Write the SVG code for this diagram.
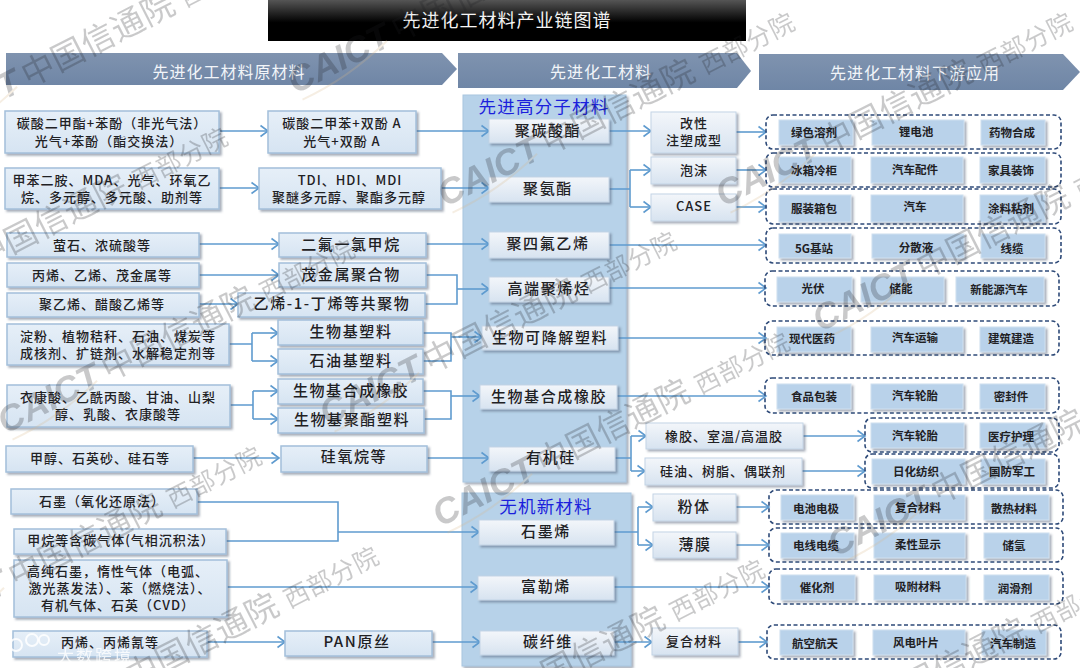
<svg xmlns="http://www.w3.org/2000/svg" xmlns:xlink="http://www.w3.org/1999/xlink" width="1080" height="668" viewBox="0 0 1080 668">
<style>
text{font-family:"Noto Sans CJK SC","Noto Sans",sans-serif;text-anchor:middle;fill:#1f2124}
.b1{fill:url(#gl);stroke:#a3bfda;stroke-width:1.5;filter:url(#sh)}
.b2{fill:url(#gc);stroke:#c3d4e6;stroke-width:1;filter:url(#sh)}
.b3{fill:#b9d2ea;stroke:#cfe0f0;stroke-width:1;filter:url(#sh)}
.t1{font-size:13px;letter-spacing:1px;font-weight:500}
.t2{font-size:15px;letter-spacing:1.6px;font-weight:500}
.t3{font-size:11.5px;font-weight:700}
.hd{fill:url(#gh)}
.ht{font-size:16px;letter-spacing:1px;fill:#f2f5f9}
.pn{fill:#b7d2e9;stroke:#a9c6e0;stroke-width:1;filter:url(#sh)}
.lb{font-size:17.5px;letter-spacing:1.2px;fill:#1b1fdc}
.dg{fill:none;stroke:#2e4a78;stroke-width:1.6;stroke-dasharray:4 2.5}
#connectors path{fill:none;stroke:#5f9bcf;stroke-width:1.6}
.a{marker-end:url(#ar)}
.wm text{fill:#7f95bd}
</style>
<defs>
<linearGradient id="gt" x1="0" y1="0" x2="0" y2="1"><stop offset="0" stop-color="#555"/><stop offset=".55" stop-color="#000"/><stop offset="1" stop-color="#000"/></linearGradient>
<linearGradient id="gh" x1="0" y1="0" x2="0" y2="1"><stop offset="0" stop-color="#7f93af"/><stop offset="1" stop-color="#6f86a6"/></linearGradient>
<linearGradient id="gl" x1="0" y1="0" x2="0" y2="1"><stop offset="0" stop-color="#e6eff8"/><stop offset="1" stop-color="#d6e4f2"/></linearGradient>
<linearGradient id="gc" x1="0" y1="0" x2="0" y2="1"><stop offset="0" stop-color="#f3f6fa"/><stop offset="1" stop-color="#d7e3f0"/></linearGradient>
<filter id="sh" x="-10%" y="-15%" width="125%" height="140%"><feDropShadow dx="2" dy="2" stdDeviation="1" flood-color="#4a5a70" flood-opacity=".5"/></filter>
<marker id="ar" markerUnits="userSpaceOnUse" markerWidth="11" markerHeight="14" refX="9" refY="7" orient="auto"><path d="M1.5,1.5 L9,7 L1.5,12.5" fill="none" stroke="#5f9bcf" stroke-width="1.6"/></marker>
<g id="wmu">
<text x="6" y="0" style="font-family:'Liberation Sans',sans-serif;font-size:36px;font-weight:700;font-style:italic;text-anchor:start">CAICT</text>
<text x="122" y="0" style="font-size:33px;text-anchor:start;letter-spacing:.5px">中国信通院</text>
<text x="298" y="0" style="font-size:25px;text-anchor:start;letter-spacing:.8px">西部分院</text>
<path d="M10,8 Q60,10 112,-6" fill="none" stroke="#d8b98c" stroke-width="2"/>
</g>
</defs>

<rect width="1080" height="668" fill="#fff"/>

<g id="title"><rect x="268" y="0" width="478" height="41" fill="url(#gt)"/><text x="507" y="27" style="font-size:18px;letter-spacing:1px;fill:#f4f4f4">先进化工材料产业链图谱</text></g>
<g id="header-raw"><path class="hd" d="M6,53H442L457,69L442,85H6Z"/><text class="ht" x="229" y="78">先进化工材料原材料</text></g>
<g id="header-mid"><path class="hd" d="M458,53H737L751,71L737,88H458Z"/><text class="ht" x="601" y="78">先进化工材料</text></g>
<g id="header-down"><path class="hd" d="M759,54H1063L1080,72L1063,90H759Z"/><text class="ht" x="915" y="79">先进化工材料下游应用</text></g>

<g id="panel-polymer"><rect class="pn" x="463" y="95" width="163" height="387"/><text class="lb" x="544" y="113">先进高分子材料</text></g>
<g id="panel-inorganic"><rect class="pn" x="462" y="493" width="169" height="173"/><text class="lb" x="546" y="513">无机新材料</text></g>

<g id="connectors">
<path class="a" d="M219,131H268"/><path class="a" d="M219,188H259"/><path class="a" d="M198,244H279"/><path class="a" d="M198,275H279"/><path class="a" d="M198,304H238"/>
<path d="M229,344H252M252,333V361"/><path class="a" d="M252,333H278"/><path class="a" d="M252,361H278"/>
<path d="M230,405H253M253,391V419"/><path class="a" d="M253,391H278"/><path class="a" d="M253,419H278"/>
<path class="a" d="M193,458H279"/>
<path d="M197,502H338V541H226"/><path class="a" d="M338,532H479"/>
<path class="a" d="M227,587H478"/><path class="a" d="M207,642H285"/>
<path class="a" d="M416,131H489"/><path class="a" d="M441,188H489"/><path class="a" d="M426,244H489"/>
<path d="M426,275H457V304H425"/><path class="a" d="M457,289H489"/>
<path d="M423,333H451V361H423"/><path class="a" d="M451,337H482"/>
<path d="M423,391H451V419H424"/><path class="a" d="M451,396H480"/>
<path class="a" d="M427,458H489"/><path class="a" d="M432,642H480"/>
<path class="a" d="M609,131H651"/><path d="M609,189H630M630,170V207"/><path class="a" d="M630,170H651"/><path class="a" d="M630,207H651"/>
<path class="a" d="M609,245H766"/><path class="a" d="M609,288H766"/><path class="a" d="M618,338H766"/><path class="a" d="M617,396H766"/>
<path d="M615,458H631M631,436V471"/><path class="a" d="M631,436H646"/><path class="a" d="M631,471H645"/>
<path d="M614,532H638M638,507V545"/><path class="a" d="M638,507H653"/><path class="a" d="M638,545H653"/>
<path class="a" d="M614,587H769"/><path class="a" d="M614,642H652"/>
<path class="a" d="M736,132H766"/><path class="a" d="M736,170H766"/><path class="a" d="M736,207H766"/>
<path class="a" d="M803,436H865"/><path class="a" d="M802,471H865"/>
<path class="a" d="M736,507H769"/><path class="a" d="M736,545H769"/><path class="a" d="M738,642H767"/>
</g>

<g id="raw-1"><rect class="b1" x="5" y="111" width="214" height="42"/><text class="t1" x="112" y="128">碳酸二甲酯+苯酚（非光气法）</text><text class="t1" x="109" y="146">光气+苯酚（酯交换法）</text></g>
<g id="raw-2"><rect class="b1" x="268" y="111" width="148" height="42"/><text class="t1" x="342" y="128">碳酸二甲苯+双酚 A</text><text class="t1" x="342" y="146">光气+双酚 A</text></g>
<g id="raw-3"><rect class="b1" x="5" y="168" width="214" height="41"/><text class="t1" x="112" y="185">甲苯二胺、MDA、光气、环氧乙</text><text class="t1" x="112" y="202">烷、多元醇、多元酸、助剂等</text></g>
<g id="raw-4"><rect class="b1" x="259" y="168" width="182" height="41"/><text class="t1" x="350" y="185">TDI、HDI、MDI</text><text class="t1" x="349" y="202">聚醚多元醇、聚酯多元醇</text></g>
<g id="raw-5"><rect class="b1" x="7" y="233" width="192" height="24"/><text class="t1" x="102" y="250">萤石、浓硫酸等</text></g>
<g id="raw-6"><rect class="b1" x="279" y="233" width="147" height="24"/><text class="t2" x="351" y="250">二氟一氯甲烷</text></g>
<g id="raw-7"><rect class="b1" x="7" y="263" width="192" height="24"/><text class="t1" x="102" y="280">丙烯、乙烯、茂金属等</text></g>
<g id="raw-8"><rect class="b1" x="279" y="263" width="147" height="24"/><text class="t2" x="351" y="280">茂金属聚合物</text></g>
<g id="raw-9"><rect class="b1" x="7" y="293" width="192" height="24"/><text class="t1" x="102" y="309">聚乙烯、醋酸乙烯等</text></g>
<g id="raw-10"><rect class="b1" x="238" y="293" width="187" height="24"/><text class="t2" x="332" y="309">乙烯-1-丁烯等共聚物</text></g>
<g id="raw-11"><rect class="b1" x="7" y="324" width="222" height="41"/><text class="t1" x="118" y="341">淀粉、植物秸秆、石油、煤炭等</text><text class="t1" x="118" y="358">成核剂、扩链剂、水解稳定剂等</text></g>
<g id="raw-12"><rect class="b1" x="278" y="320" width="145" height="25"/><text class="t2" x="351" y="337">生物基塑料</text></g>
<g id="raw-13"><rect class="b1" x="278" y="349" width="145" height="25"/><text class="t2" x="351" y="366">石油基塑料</text></g>
<g id="raw-14"><rect class="b1" x="7" y="385" width="223" height="42"/><text class="t1" x="118" y="402">衣康酸、乙酰丙酸、甘油、山梨</text><text class="t1" x="118" y="419">醇、乳酸、衣康酸等</text></g>
<g id="raw-15"><rect class="b1" x="278" y="379" width="145" height="25"/><text class="t2" x="351" y="396">生物基合成橡胶</text></g>
<g id="raw-16"><rect class="b1" x="278" y="408" width="146" height="25"/><text class="t2" x="352" y="425">生物基聚酯塑料</text></g>
<g id="raw-17"><rect class="b1" x="6" y="446" width="187" height="26"/><text class="t1" x="100" y="463">甲醇、石英砂、硅石等</text></g>
<g id="raw-18"><rect class="b1" x="281" y="446" width="146" height="26"/><text class="t2" x="354" y="462">硅氧烷等</text></g>
<g id="raw-19"><rect class="b1" x="11" y="489" width="186" height="25"/><text class="t1" x="102" y="506">石墨（氧化还原法）</text></g>
<g id="raw-20"><rect class="b1" x="14" y="529" width="212" height="25"/><text class="t1" x="121" y="545">甲烷等含碳气体(气相沉积法）</text></g>
<g id="raw-21"><rect class="b1" x="14" y="560" width="213" height="57"/><text class="t1" x="118" y="576">高纯石墨，惰性气体（电弧、</text><text class="t1" x="120" y="593">激光蒸发法）、苯（燃烧法）、</text><text class="t1" x="118" y="610">有机气体、石英（CVD）</text></g>
<g id="raw-22"><rect class="b1" x="13" y="631" width="194" height="26"/><text class="t1" x="110" y="647">丙烯、丙烯氰等</text></g>
<g id="raw-23"><rect class="b1" x="285" y="631" width="147" height="25"/><text class="t2" x="357" y="647">PAN原丝</text></g>

<g id="mat-1"><rect class="b2" x="489" y="119" width="120" height="24"/><text class="t2" x="548" y="136">聚碳酸酯</text></g>
<g id="mat-2"><rect class="b2" x="489" y="177" width="120" height="25"/><text class="t2" x="548" y="194">聚氨酯</text></g>
<g id="mat-3"><rect class="b2" x="489" y="232" width="120" height="26"/><text class="t2" x="548" y="249">聚四氟乙烯</text></g>
<g id="mat-4"><rect class="b2" x="489" y="277" width="120" height="25"/><text class="t2" x="549" y="294">高端聚烯烃</text></g>
<g id="mat-5"><rect class="b2" x="482" y="326" width="136" height="24"/><text class="t2" x="550" y="343">生物可降解塑料</text></g>
<g id="mat-6"><rect class="b2" x="480" y="385" width="137" height="24"/><text class="t2" x="549" y="402">生物基合成橡胶</text></g>
<g id="mat-7"><rect class="b2" x="489" y="447" width="126" height="24"/><text class="t2" x="551" y="463">有机硅</text></g>
<g id="mat-8"><rect class="b2" x="479" y="520" width="135" height="25"/><text class="t2" x="546" y="537">石墨烯</text></g>
<g id="mat-9"><rect class="b2" x="478" y="576" width="136" height="24"/><text class="t2" x="546" y="592">富勒烯</text></g>
<g id="mat-10"><rect class="b2" x="480" y="631" width="134" height="24"/><text class="t2" x="548" y="647">碳纤维</text></g>

<g id="form-1"><rect class="b2" x="651" y="112" width="85" height="41"/><text class="t1" x="694" y="128">改性</text><text class="t1" x="694" y="145">注塑成型</text></g>
<g id="form-2"><rect class="b2" x="651" y="157" width="85" height="27"/><text class="t1" x="694" y="175">泡沫</text></g>
<g id="form-3"><rect class="b2" x="651" y="194" width="85" height="27"/><text class="t1" x="694" y="211">CASE</text></g>
<g id="form-4"><rect class="b2" x="646" y="423" width="157" height="26"/><text class="t1" x="724" y="441">橡胶、室温/高温胶</text></g>
<g id="form-5"><rect class="b2" x="645" y="458" width="157" height="27"/><text class="t1" x="723" y="476">硅油、树脂、偶联剂</text></g>
<g id="form-6"><rect class="b2" x="653" y="494" width="83" height="27"/><text class="t2" x="694" y="512">粉体</text></g>
<g id="form-7"><rect class="b2" x="653" y="532" width="83" height="26"/><text class="t2" x="695" y="550">薄膜</text></g>
<g id="form-8"><rect class="b2" x="652" y="628" width="86" height="27"/><text class="t1" x="694" y="646">复合材料</text></g>

<g id="app-1"><rect class="dg" x="766" y="115" width="295" height="34" rx="7"/>
<rect class="b3" x="779" y="120" width="74" height="25"/><text class="t3" x="814" y="137">绿色溶剂</text>
<rect class="b3" x="872" y="120" width="92" height="25"/><text class="t3" x="916" y="136">锂电池</text>
<rect class="b3" x="981" y="120" width="64" height="25"/><text class="t3" x="1012" y="137">药物合成</text></g>
<g id="app-2"><rect class="dg" x="766" y="153" width="295" height="34" rx="7"/>
<rect class="b3" x="779" y="157" width="72" height="26"/><text class="t3" x="814" y="175">冰箱冷柜</text>
<rect class="b3" x="871" y="157" width="92" height="26"/><text class="t3" x="915" y="174">汽车配件</text>
<rect class="b3" x="980" y="157" width="65" height="26"/><text class="t3" x="1011" y="175">家具装饰</text></g>
<g id="app-3"><rect class="dg" x="766" y="189" width="295" height="35" rx="7"/>
<rect class="b3" x="779" y="195" width="72" height="27"/><text class="t3" x="814" y="213">服装箱包</text>
<rect class="b3" x="871" y="195" width="92" height="27"/><text class="t3" x="915" y="211">汽车</text>
<rect class="b3" x="980" y="195" width="65" height="27"/><text class="t3" x="1011" y="213">涂料粘剂</text></g>
<g id="app-4"><rect class="dg" x="766" y="228" width="295" height="35" rx="7"/>
<rect class="b3" x="779" y="234" width="72" height="24"/><text class="t3" x="814" y="253">5G基站</text>
<rect class="b3" x="872" y="234" width="92" height="24"/><text class="t3" x="916" y="252">分散液</text>
<rect class="b3" x="981" y="234" width="64" height="24"/><text class="t3" x="1012" y="253">线缆</text></g>
<g id="app-5"><rect class="dg" x="765" y="271" width="294" height="35" rx="7"/>
<rect class="b3" x="777" y="277" width="75" height="25"/><text class="t3" x="813" y="293">光伏</text>
<rect class="b3" x="861" y="277" width="83" height="25"/><text class="t3" x="901" y="293">储能</text>
<rect class="b3" x="956" y="277" width="88" height="25"/><text class="t3" x="999" y="294">新能源汽车</text></g>
<g id="app-6"><rect class="dg" x="765" y="321" width="294" height="34" rx="7"/>
<rect class="b3" x="777" y="327" width="74" height="25"/><text class="t3" x="812" y="343">现代医药</text>
<rect class="b3" x="871" y="327" width="92" height="25"/><text class="t3" x="915" y="342">汽车运输</text>
<rect class="b3" x="980" y="327" width="65" height="25"/><text class="t3" x="1011" y="343">建筑建造</text></g>
<g id="app-7"><rect class="dg" x="765" y="378" width="294" height="35" rx="7"/>
<rect class="b3" x="777" y="384" width="74" height="25"/><text class="t3" x="814" y="401">食品包装</text>
<rect class="b3" x="871" y="384" width="92" height="25"/><text class="t3" x="915" y="400">汽车轮胎</text>
<rect class="b3" x="980" y="384" width="65" height="25"/><text class="t3" x="1011" y="401">密封件</text></g>
<g id="app-8"><rect class="dg" x="865" y="418" width="194" height="34" rx="7"/>
<rect class="b3" x="871" y="423" width="93" height="25"/><text class="t3" x="915" y="440">汽车轮胎</text>
<rect class="b3" x="980" y="423" width="65" height="25"/><text class="t3" x="1011" y="441">医疗护理</text></g>
<g id="app-9"><rect class="dg" x="865" y="454" width="194" height="34" rx="7"/>
<rect class="b3" x="872" y="459" width="93" height="25"/><text class="t3" x="916" y="476">日化纺织</text>
<rect class="b3" x="981" y="459" width="64" height="25"/><text class="t3" x="1012" y="476">国防军工</text></g>
<g id="app-10"><rect class="dg" x="769" y="490" width="294" height="34" rx="7"/>
<rect class="b3" x="781" y="495" width="73" height="25"/><text class="t3" x="816" y="513">电池电极</text>
<rect class="b3" x="874" y="495" width="91" height="25"/><text class="t3" x="918" y="512">复合材料</text>
<rect class="b3" x="984" y="495" width="65" height="25"/><text class="t3" x="1014" y="513">散热材料</text></g>
<g id="app-11"><rect class="dg" x="769" y="528" width="294" height="34" rx="7"/>
<rect class="b3" x="781" y="533" width="73" height="25"/><text class="t3" x="816" y="550">电线电缆</text>
<rect class="b3" x="874" y="533" width="91" height="25"/><text class="t3" x="918" y="549">柔性显示</text>
<rect class="b3" x="984" y="533" width="65" height="25"/><text class="t3" x="1014" y="550">储氢</text></g>
<g id="app-12"><rect class="dg" x="769" y="569" width="294" height="35" rx="7"/>
<rect class="b3" x="781" y="575" width="74" height="25"/><text class="t3" x="817" y="592">催化剂</text>
<rect class="b3" x="874" y="575" width="92" height="25"/><text class="t3" x="918" y="591">吸附材料</text>
<rect class="b3" x="984" y="575" width="65" height="25"/><text class="t3" x="1015" y="593">润滑剂</text></g>
<g id="app-13"><rect class="dg" x="767" y="625" width="294" height="34" rx="7"/>
<rect class="b3" x="780" y="630" width="73" height="25"/><text class="t3" x="815" y="648">航空航天</text>
<rect class="b3" x="873" y="630" width="92" height="25"/><text class="t3" x="916" y="647">风电叶片</text>
<rect class="b3" x="982" y="630" width="64" height="25"/><text class="t3" x="1013" y="648">汽车制造</text></g>

<g class="wm" opacity=".24">
<use xlink:href="#wmu" href="#wmu" transform="translate(-80,143) rotate(-27)"/>
<use xlink:href="#wmu" href="#wmu" transform="translate(290,97) rotate(-27)"/>
<use xlink:href="#wmu" href="#wmu" transform="translate(440,210) rotate(-27)"/>
<use xlink:href="#wmu" href="#wmu" transform="translate(718,210) rotate(-27)"/>
<use xlink:href="#wmu" href="#wmu" transform="translate(-127,325) rotate(-27)"/>
<use xlink:href="#wmu" href="#wmu" transform="translate(0,437) rotate(-27)"/>
<use xlink:href="#wmu" href="#wmu" transform="translate(322,429) rotate(-27)"/>
<use xlink:href="#wmu" href="#wmu" transform="translate(815,335) rotate(-27)"/>
<use xlink:href="#wmu" href="#wmu" transform="translate(435,530) rotate(-27)"/>
<use xlink:href="#wmu" href="#wmu" transform="translate(830,560) rotate(-27)"/>
<use xlink:href="#wmu" href="#wmu" transform="translate(-93,644) rotate(-27)"/>
<use xlink:href="#wmu" href="#wmu" transform="translate(24,744) rotate(-27)"/>
<use xlink:href="#wmu" href="#wmu" transform="translate(410,757) rotate(-27)"/>
<use xlink:href="#wmu" href="#wmu" transform="translate(772,769) rotate(-27)"/>
</g>
<g id="stamp"><circle cx="16" cy="645" r="6" fill="none" stroke="#fff" stroke-width="2" opacity=".85"/><circle cx="32" cy="640" r="6" fill="none" stroke="#fff" stroke-width="2" opacity=".85"/><circle cx="44" cy="640" r="5" fill="none" stroke="#fff" stroke-width="2" opacity=".85"/><text x="95" y="662" style="font-size:17px;letter-spacing:2px;fill:#fff" opacity=".8">大数跨境</text></g>
</svg>
